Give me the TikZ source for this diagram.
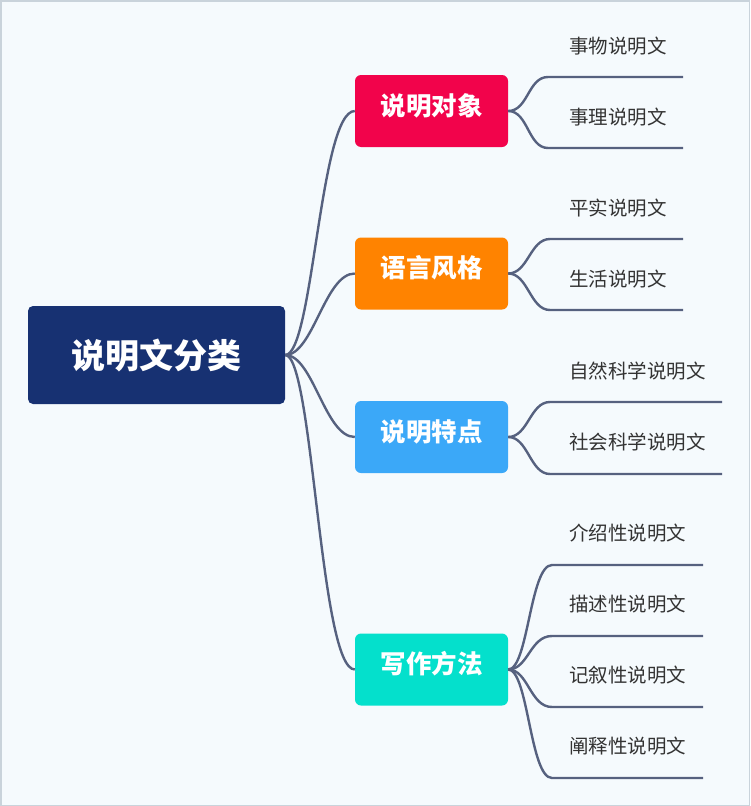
\documentclass[tikz,border=0pt]{standalone}
\usepackage{fontspec}
\setmainfont{Noto Sans CJK SC}
\usepackage{xcolor}

\definecolor{bgpaper}{HTML}{F5FAFD}
\definecolor{framegray}{HTML}{C9D3DB}
\definecolor{rootnavy}{HTML}{173172}
\definecolor{objred}{HTML}{F2034B}
\definecolor{langorange}{HTML}{FF8300}
\definecolor{featblue}{HTML}{3BA8F8}
\definecolor{methteal}{HTML}{04E0CC}
\definecolor{linkgray}{HTML}{56617F}
\definecolor{leaftext}{HTML}{333333}

\tikzset{
  rootbox/.style={fill=rootnavy, rounded corners=5pt, text=white, inner sep=0pt,
    minimum width=257pt, minimum height=98pt,
    font=\fontsize{34}{38}\selectfont\bfseries},
  branchbox/.style={rounded corners=6pt, text=white, inner sep=0pt,
    minimum width=153pt, minimum height=72pt, text height=20pt, text depth=12pt,
    font=\fontsize{25.5}{30}\selectfont\bfseries},
  leaf/.style={anchor=west, text=leaftext, inner sep=0pt,
    font=\fontsize{19.5}{23}\selectfont},
  link/.style={draw=linkgray, line width=2.4pt},
}

\begin{document}
\begin{tikzpicture}[x=1pt, y=-1pt]
        % Paper and frame
        \useasboundingbox (0,0) rectangle (750,806);
        \fill[bgpaper] (0,0) rectangle (750,806);
        \draw[framegray, line width=1.5pt] (0.75,0.75) rectangle (749.25,805.25);

        % Root
        \node[rootbox] (root) at (156.5,355) {说明文分类};

        % Branches
        \node[branchbox, fill=objred] (bA) at (431.5,111) {说明对象};
        \node[branchbox, fill=langorange] (bB) at (431.5,273.5) {语言风格};
        \node[branchbox, fill=featblue] (bC) at (431.5,437) {说明特点};
        \node[branchbox, fill=methteal] (bD) at (431.5,669.5) {写作方法};

        % Root to branches
        \draw[link] (root.east) .. controls +(28,0) and +(-35,0) .. (bA.west);
        \draw[link] (root.east) .. controls +(28,0) and +(-30,0) .. (bB.west);
        \draw[link] (root.east) .. controls +(28,0) and +(-30,0) .. (bC.west);
        \draw[link] (root.east) .. controls +(28,0) and +(-35,0) .. (bD.west);

        % Leaf lines (start and end)
        \coordinate (sA1) at (548,77);   \coordinate (eA1) at (683,77);
        \coordinate (sA2) at (548,148);  \coordinate (eA2) at (683,148);
        \coordinate (sB1) at (550,239);  \coordinate (eB1) at (683,239);
        \coordinate (sB2) at (550,310);  \coordinate (eB2) at (683,310);
        \coordinate (sC1) at (550,402);  \coordinate (eC1) at (722,402);
        \coordinate (sC2) at (550,474);  \coordinate (eC2) at (722,474);
        \coordinate (sD1) at (552,565);  \coordinate (eD1) at (703,565);
        \coordinate (sD2) at (552,636);  \coordinate (eD2) at (703,636);
        \coordinate (sD3) at (552,707);  \coordinate (eD3) at (703,707);
        \coordinate (sD4) at (552,778);  \coordinate (eD4) at (703,778);

        % Leaf labels
        \node[leaf] (lA1) at (569,46) {事物说明文};
        \node[leaf] (lA2) at (569,117) {事理说明文};
        \node[leaf] (lB1) at (569,208) {平实说明文};
        \node[leaf] (lB2) at (569,279) {生活说明文};
        \node[leaf] (lC1) at (569,371) {自然科学说明文};
        \node[leaf] (lC2) at (569,442) {社会科学说明文};
        \node[leaf] (lD1) at (569,533) {介绍性说明文};
        \node[leaf] (lD2) at (569,604) {描述性说明文};
        \node[leaf] (lD3) at (569,675) {记叙性说明文};
        \node[leaf] (lD4) at (569,746) {阐释性说明文};

        % Branches to leaves
        \draw[link] (bA.east) .. controls +(20,0) and +(-20,0) .. (sA1) -- (eA1);
        \draw[link] (bA.east) .. controls +(20,0) and +(-20,0) .. (sA2) -- (eA2);
        \draw[link] (bB.east) .. controls +(20,0) and +(-20,0) .. (sB1) -- (eB1);
        \draw[link] (bB.east) .. controls +(20,0) and +(-20,0) .. (sB2) -- (eB2);
        \draw[link] (bC.east) .. controls +(20,0) and +(-20,0) .. (sC1) -- (eC1);
        \draw[link] (bC.east) .. controls +(20,0) and +(-20,0) .. (sC2) -- (eC2);
        \draw[link] (bD.east) .. controls +(20,0) and +(-22,0) .. (sD1) -- (eD1);
        \draw[link] (bD.east) .. controls +(20,0) and +(-22,0) .. (sD2) -- (eD2);
        \draw[link] (bD.east) .. controls +(20,0) and +(-22,0) .. (sD3) -- (eD3);
        \draw[link] (bD.east) .. controls +(20,0) and +(-22,0) .. (sD4) -- (eD4);
\end{tikzpicture}
\end{document}
